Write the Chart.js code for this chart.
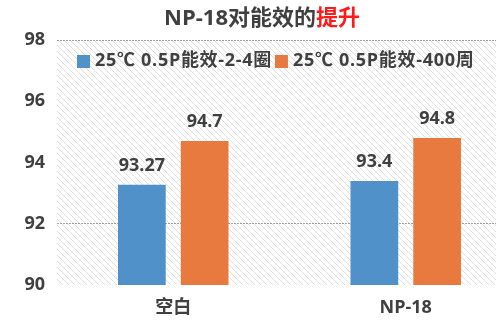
<!DOCTYPE html>
<html>
<head>
<meta charset="utf-8">
<script src="https://cdn.jsdelivr.net/npm/chart.js@4/dist/chart.umd.min.js"></script>
<style>
  html, body { margin: 0; padding: 0; background: #fff; overflow: hidden; }
  #box { width: 522px; height: 327px; }
</style>
</head>
<body>
<div id="box"><canvas id="c"></canvas></div>
<script>
// データ
var categories = ["空白", "NP-18"];
var seriesNames = ["25℃ 0.5P能效-2-4圈", "25℃ 0.5P能效-400周"];
var coil24 = [93.27, 93.4];
var cycle400 = [94.7, 94.8];
var yTicks = [90, 92, 94, 96, 98];
var gridShown = [92, 98];

var FONT = "'Open Sans', 'Noto Sans CJK SC', sans-serif";
var TEXT = "#404040";
var BLUE = "#5191CA";
var ORANGE = "#E97A3F";

// 背景の斜線パターン
function hatch(ctx) {
  var p = document.createElement("canvas");
  p.width = 6;
  p.height = 6;
  var g = p.getContext("2d");
  g.strokeStyle = "#dedede";
  g.lineWidth = 1;
  g.beginPath();
  g.moveTo(-1, -1);
  g.lineTo(7, 7);
  g.moveTo(-1, 5);
  g.lineTo(1, 7);
  g.moveTo(5, -1);
  g.lineTo(7, 1);
  g.stroke();
  return ctx.createPattern(p, "repeat");
}

var bgPlugin = {
  id: "bg",
  beforeDraw: function (chart) {
    var ctx = chart.ctx;
    var a = chart.chartArea;
    ctx.save();
    ctx.fillStyle = hatch(ctx);
    ctx.fillRect(a.left, a.top, a.right - a.left, a.bottom - a.top);
    ctx.restore();
  },
};

// タイトル（"提升"だけ赤）と凡例、値ラベル
var textPlugin = {
  id: "texts",
  afterDraw: function (chart) {
    var ctx = chart.ctx;
    ctx.save();
    ctx.font = "bold 22px " + FONT;
    ctx.textBaseline = "middle";
    var t1 = "NP-18对能效的";
    var t2 = "提升";
    var w1 = ctx.measureText(t1).width;
    var w2 = ctx.measureText(t2).width;
    var x0 = 262 - (w1 + w2) / 2;
    ctx.textAlign = "left";
    ctx.fillStyle = TEXT;
    ctx.fillText(t1, x0, 19);
    ctx.fillStyle = "#FF1A1A";
    ctx.fillText(t2, x0 + w1, 19);

    // 凡例
    ctx.font = "bold 18px " + FONT;
    ctx.letterSpacing = "0.7px";
    var lx = 77;
    chart.data.datasets.forEach(function (ds) {
      ctx.fillStyle = ds.backgroundColor;
      ctx.fillRect(lx, 55, 13, 13);
      ctx.fillStyle = TEXT;
      ctx.fillText(ds.label, lx + 18, 61);
      lx += 18 + ctx.measureText(ds.label).width + 3;
    });
    ctx.letterSpacing = "0px";

    // 値ラベル
    ctx.font = "bold 18px " + FONT;
    ctx.textAlign = "center";
    ctx.textBaseline = "middle";
    ctx.fillStyle = TEXT;
    chart.data.datasets.forEach(function (ds, i) {
      var meta = chart.getDatasetMeta(i);
      meta.data.forEach(function (bar, j) {
        ctx.fillText(String(ds.data[j]), bar.x, bar.y - 19);
      });
    });
    ctx.restore();
  },
};

new Chart(document.getElementById("c"), {
  type: "bar",
  data: {
    labels: categories,
    datasets: [
      { label: seriesNames[0], data: coil24, backgroundColor: BLUE },
      { label: seriesNames[1], data: cycle400, backgroundColor: ORANGE },
    ],
  },
  options: {
    responsive: true,
    maintainAspectRatio: false,
    animation: false,
    devicePixelRatio: 1,
    layout: { padding: { top: 40, right: 0, bottom: 0, left: 0 } },
    plugins: {
      legend: { display: false },
      title: { display: false },
      tooltip: { enabled: false },
    },
    datasets: {
      bar: { categoryPercentage: 0.54, barPercentage: 0.76 },
    },
    scales: {
      x: {
        grid: { display: false, drawTicks: false },
        border: { display: false },
        ticks: {
          color: TEXT,
          font: { family: FONT, size: 18, weight: "bold" },
          padding: 12,
        },
        afterFit: function (s) {
          s.height = 42;
        },
      },
      y: {
        min: 90,
        max: 98,
        afterBuildTicks: function (s) {
          s.ticks = yTicks.map(function (v) {
            return { value: v };
          });
        },
        grid: {
          drawTicks: false,
          color: function (c) {
            return c.tick && gridShown.indexOf(c.tick.value) >= 0
              ? "#a0a0a0"
              : "rgba(0,0,0,0)";
          },
          lineWidth: 1,
        },
        border: { display: false, dash: [2, 1] },
        ticks: {
          color: TEXT,
          font: { family: FONT, size: 18, weight: "bold" },
          padding: 12,
        },
        afterFit: function (s) {
          s.width = 57;
        },
      },
    },
  },
  plugins: [bgPlugin, textPlugin],
});
</script>
</body>
</html>
